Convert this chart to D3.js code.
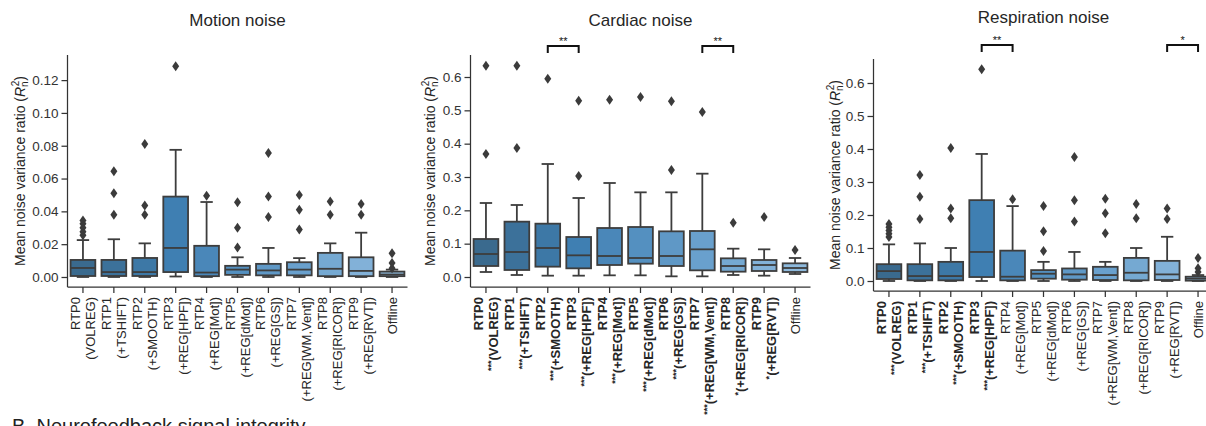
<!DOCTYPE html>
<html lang="en">
<head>
<meta charset="UTF-8">
<title>Noise variance ratio by processing pipeline</title>
<script src="https://cdn.jsdelivr.net/npm/d3@7"></script>
<style>
  body { margin: 0; background: #fff; }
  svg { display: block; font-family: "Liberation Sans", Arial, sans-serif; }
  .title { font-size: 17px; fill: #262626; }
  .yaxis text { font-size: 13.5px; fill: #333; }
  .ylab { font-size: 14px; fill: #262626; }
  .xlab { font-size: 13px; fill: #262626; }
  .stars { font-size: 11px; fill: #111; }
</style>
</head>
<body>
<svg id="chart" width="1206" height="426"></svg>
<script>
// categories
const stageNames = ["RTP0", "RTP1", "RTP2", "RTP3", "RTP4", "RTP5", "RTP6", "RTP7", "RTP8", "RTP9", "Offline"];
const stageSteps = ["(VOLREG)", "(+TSHIFT)", "(+SMOOTH)", "(+REG[HPF])", "(+REG[Mot])", "(+REG[dMot])",
  "(+REG[GS])", "(+REG[WM,Vent])", "(+REG[RICOR])", "(+REG[RVT])", ""];

// motion noise
const motionLow = [0.000, 0.000, 0.000, 0.0003, 0.000, 0.000, 0.000, 0.000, 0.000, 0.000, 0.000];
const motionQ1 = [0.0006, 0.0006, 0.0006, 0.003, 0.0005, 0.0013, 0.001, 0.001, 0.0005, 0.0005, 0.0005];
const motionMed = [0.0055, 0.003, 0.003, 0.0177, 0.0027, 0.0045, 0.004, 0.0045, 0.005, 0.0037, 0.0015];
const motionQ3 = [0.0104, 0.0104, 0.0116, 0.049, 0.019, 0.0068, 0.008, 0.009, 0.0147, 0.012, 0.0033];
const motionHigh = [0.0225, 0.023, 0.0205, 0.0775, 0.0457, 0.012, 0.0177, 0.0115, 0.0205, 0.027, 0.0045];
const motionOut = [[0.0255, 0.0275, 0.030, 0.0325, 0.0345], [0.038, 0.051, 0.0645], [0.038, 0.0435, 0.081],
  [0.1285], [0.0495], [0.018, 0.030, 0.0455], [0.0365, 0.049, 0.0755], [0.029, 0.041, 0.050],
  [0.038, 0.046], [0.038, 0.0445], [0.0053, 0.0085, 0.0144]];

// cardiac noise
const cardiacLow = [0.015, 0.006, 0.004, 0.004, 0.005, 0.005, 0.002, 0.002, 0.006, 0.004, 0.009];
const cardiacQ1 = [0.033, 0.021, 0.031, 0.026, 0.036, 0.040, 0.033, 0.020, 0.016, 0.018, 0.015];
const cardiacMed = [0.069, 0.075, 0.087, 0.065, 0.063, 0.057, 0.063, 0.083, 0.033, 0.036, 0.027];
const cardiacQ3 = [0.114, 0.166, 0.160, 0.120, 0.147, 0.150, 0.137, 0.138, 0.056, 0.051, 0.041];
const cardiacHigh = [0.222, 0.216, 0.339, 0.237, 0.282, 0.254, 0.254, 0.310, 0.085, 0.083, 0.057];
const cardiacOut = [[0.369, 0.634], [0.387, 0.634], [0.595], [0.303, 0.529], [0.532], [0.540],
  [0.321, 0.527], [0.495], [0.163], [0.180], [0.081]];
const cardiacSig = ["***", "***", "***", "***", "***", "***", "***", "***", "*", "*", ""];
const cardiacPairs = [[2, 3, "**"], [7, 8, "**"]];

// respiration noise
const respLow = [0.000, 0.000, 0.000, 0.000, 0.000, 0.000, 0.000, 0.000, 0.000, 0.000, 0.000];
const respQ1 = [0.006, 0.002, 0.002, 0.012, 0.002, 0.007, 0.004, 0.003, 0.002, 0.003, 0.001];
const respMed = [0.030, 0.015, 0.015, 0.088, 0.013, 0.022, 0.020, 0.018, 0.025, 0.020, 0.007];
const respQ3 = [0.051, 0.051, 0.058, 0.245, 0.092, 0.033, 0.038, 0.043, 0.070, 0.061, 0.013];
const respHigh = [0.111, 0.114, 0.100, 0.385, 0.227, 0.058, 0.088, 0.058, 0.100, 0.134, 0.018];
const respOut = [[0.133, 0.143, 0.153, 0.163, 0.173], [0.188, 0.255, 0.321], [0.190, 0.220, 0.403],
  [0.642], [0.248], [0.091, 0.151, 0.227], [0.180, 0.245, 0.376], [0.145, 0.205, 0.249],
  [0.190, 0.233], [0.188, 0.220], [0.027, 0.039, 0.070]];
const respSig = ["***", "***", "***", "***", "", "", "", "", "", "", ""];
const respPairs = [[3, 4, "**"], [9, 10, "*"]];

// tick values
const motionTicks = [0, 0.02, 0.04, 0.06, 0.08, 0.10, 0.12];
const ratioTicks = [0, 0.1, 0.2, 0.3, 0.4, 0.5, 0.6];

const boxColor = d3.scaleLinear()
  .domain([0, 3, 7, 10])
  .range(["#3a6a8e", "#3f7fb2", "#69a0cd", "#8ebadd"])
  .interpolate(d3.interpolateRgb);
const lineColor = "#3d3d3d";

const panels = [
  { title: "Motion noise", x0: 67.5, x1: 407.5, top: 55, bottom: 287, domain: [-0.0061, 0.1353],
    ticks: motionTicks, fmt: ".2f", titleY: 26, labX: 25,
    lo: motionLow, q1: motionQ1, med: motionMed, q3: motionQ3, hi: motionHigh, out: motionOut,
    sig: null, pairs: [] },
  { title: "Cardiac noise", x0: 470.5, x1: 810.5, top: 55, bottom: 287, domain: [-0.030, 0.666],
    ticks: ratioTicks, fmt: ".1f", titleY: 26, labX: 435, bracketY: 46,
    lo: cardiacLow, q1: cardiacQ1, med: cardiacMed, q3: cardiacQ3, hi: cardiacHigh, out: cardiacOut,
    sig: cardiacSig, pairs: cardiacPairs },
  { title: "Respiration noise", x0: 873.5, x1: 1213.5, top: 59, bottom: 291, domain: [-0.0303, 0.6727],
    ticks: ratioTicks, fmt: ".1f", titleY: 23, labX: 840, bracketY: 45,
    lo: respLow, q1: respQ1, med: respMed, q3: respQ3, hi: respHigh, out: respOut,
    sig: respSig, pairs: respPairs }
];

const svg = d3.select("#chart");
svg.append("rect").attr("width", 1206).attr("height", 426).attr("fill", "#fff");

panels.forEach(p => {
  const x = d3.scaleBand().domain(d3.range(stageNames.length)).range([p.x0, p.x1]);
  const cx = i => x(i) + x.bandwidth() / 2;
  const y = d3.scaleLinear().domain(p.domain).range([p.bottom, p.top]);
  const bw = x.bandwidth() * 0.8;
  const g = svg.append("g");

  // axes
  const yAxis = g.append("g").attr("class", "yaxis")
    .attr("transform", `translate(${p.x0},0)`)
    .call(d3.axisLeft(y).tickValues(p.ticks).tickFormat(d3.format(p.fmt)).tickSize(6).tickPadding(3));
  yAxis.select(".domain").attr("d", `M0,${p.top}V${p.bottom}`);
  yAxis.selectAll("path,line").attr("stroke", "#333").attr("stroke-width", 1.25);
  yAxis.selectAll("text").attr("font-family", null);

  const xAxis = g.append("g")
    .attr("transform", `translate(0,${p.bottom})`)
    .call(d3.axisBottom(x).tickSize(6).tickFormat(""));
  xAxis.select(".domain").attr("d", `M${p.x0},0H${p.x1}`);
  xAxis.selectAll("path,line").attr("stroke", "#333").attr("stroke-width", 1.25);

  // x labels, two rotated lines each
  g.selectAll(".xlab").data(stageNames).join("text")
    .attr("class", "xlab")
    .attr("text-anchor", "end")
    .attr("transform", (d, i) => `translate(${cx(i)},${p.bottom + 10}) rotate(-90)`)
    .each(function (d, i) {
      const t = d3.select(this);
      const mark = p.sig ? p.sig[i] : "";
      if (mark) t.attr("font-weight", "bold");
      if (!stageSteps[i]) {
        t.append("tspan").attr("x", 0).attr("y", 4.5).text(d);
        return;
      }
      t.append("tspan").attr("x", 0).attr("y", -3).text(d);
      if (mark) {
        t.append("tspan").attr("x", 0).attr("y", 8).attr("font-size", 9).text(mark);
        t.append("tspan").attr("dy", 4).text(stageSteps[i]);
      } else {
        t.append("tspan").attr("x", 0).attr("y", 12).text(stageSteps[i]);
      }
    });

  // boxes
  const idx = d3.range(stageNames.length);
  const box = g.selectAll(".box").data(idx).join("g").attr("class", "box");
  box.append("line")
    .attr("x1", cx).attr("x2", cx)
    .attr("y1", i => y(p.q3[i])).attr("y2", i => y(p.hi[i]));
  box.append("line")
    .attr("x1", cx).attr("x2", cx)
    .attr("y1", i => y(p.q1[i])).attr("y2", i => y(p.lo[i]));
  box.append("rect")
    .attr("x", i => cx(i) - bw / 2).attr("width", bw)
    .attr("y", i => y(p.q3[i])).attr("height", i => y(p.q1[i]) - y(p.q3[i]))
    .attr("fill", i => boxColor(i));
  box.append("line")
    .attr("x1", i => cx(i) - bw / 2).attr("x2", i => cx(i) + bw / 2)
    .attr("y1", i => y(p.med[i])).attr("y2", i => y(p.med[i]));
  box.append("line")
    .attr("x1", i => cx(i) - bw / 4).attr("x2", i => cx(i) + bw / 4)
    .attr("y1", i => y(p.hi[i])).attr("y2", i => y(p.hi[i]));
  box.append("line")
    .attr("x1", i => cx(i) - bw / 4).attr("x2", i => cx(i) + bw / 4)
    .attr("y1", i => y(p.lo[i])).attr("y2", i => y(p.lo[i]));
  box.selectAll("line,rect").attr("stroke", lineColor).attr("stroke-width", 1.8);

  // outliers
  box.selectAll(".flier").data(i => p.out[i].map(v => [i, v])).join("path")
    .attr("class", "flier")
    .attr("d", "M0,-5L3.5,0L0,5L-3.5,0Z")
    .attr("transform", d => `translate(${cx(d[0])},${y(d[1])})`)
    .attr("fill", "#3b3b3b");

  // significance brackets
  p.pairs.forEach(([a, b, s]) => {
    g.append("path")
      .attr("d", `M${cx(a)},${p.bracketY + 7}V${p.bracketY}H${cx(b)}V${p.bracketY + 7}`)
      .attr("fill", "none").attr("stroke", "#111").attr("stroke-width", 2);
    g.append("text").attr("class", "stars")
      .attr("x", (cx(a) + cx(b)) / 2).attr("y", p.bracketY - 1)
      .attr("text-anchor", "middle").text(s);
  });

  // title
  g.append("text").attr("class", "title")
    .attr("x", (p.x0 + p.x1) / 2).attr("y", p.titleY)
    .attr("text-anchor", "middle").text(p.title);

  // y label
  const lab = g.append("text").attr("class", "ylab")
    .attr("text-anchor", "middle")
    .attr("transform", `translate(${p.labX},${(p.top + p.bottom) / 2}) rotate(-90)`);
  lab.append("tspan").text("Mean noise variance ratio (");
  lab.append("tspan").attr("font-style", "italic").text("R");
  lab.append("tspan").attr("font-size", 10).attr("dy", 3).text("n");
  lab.append("tspan").attr("font-size", 10).attr("dx", -5).attr("dy", -9).text("2");
  lab.append("tspan").attr("dy", 6).text(")");
});

svg.append("text")
  .attr("x", 12).attr("y", 433)
  .attr("font-size", 20).attr("fill", "#222")
  .text("B. Neurofeedback signal integrity");
</script>
</body>
</html>
